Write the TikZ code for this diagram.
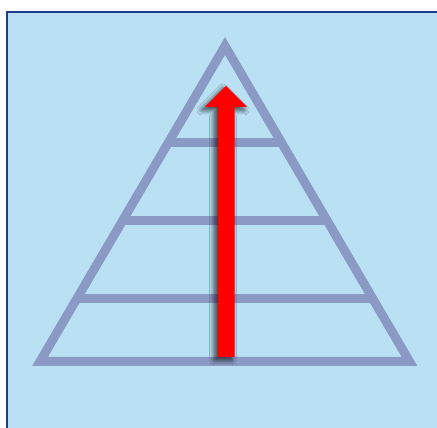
\documentclass[tikz,border=0pt]{standalone}
\usetikzlibrary{shadows.blur}
\definecolor{bgblue}{HTML}{BAE0F4}
\definecolor{frameblue}{HTML}{1F3A93}
\definecolor{pyr}{HTML}{8B9AC4}
\definecolor{arrred}{HTML}{FF0000}
\tikzset{
  pyrline/.style={draw=pyr, line width=9pt, line join=miter},
  uparrow/.style={fill=arrred, draw=none, blur shadow={shadow xshift=-3pt, shadow yshift=-3pt, shadow blur steps=16, shadow opacity=75, shadow blur radius=5pt}}
}
\begin{document}
\begin{tikzpicture}[x=1pt,y=1pt]
\useasboundingbox (0,0) rectangle (437,428);
\begin{scope}
\clip (0,0) rectangle (437,428);
\draw[fill=bgblue, draw=frameblue, line width=2.2pt] (7,416) rectangle (450,-20);
\end{scope}
\coordinate (apex) at (225,382);
\coordinate (bl) at (40,66.5);
\coordinate (br) at (409.5,66.5);
\draw[pyrline] (apex) -- (bl) -- (br) -- cycle;
\coordinate (l1) at (168.4,285.5); \coordinate (r1) at (281.4,285.5);
\coordinate (l2) at (122.7,207.5); \coordinate (r2) at (327.0,207.5);
\coordinate (l3) at (76.9,129.5);  \coordinate (r3) at (372.7,129.5);
\draw[pyrline] (l1) -- (r1);
\draw[pyrline] (l2) -- (r2);
\draw[pyrline] (l3) -- (r3);
\path[uparrow] (217.5,71) -- (234.5,71) -- (234.5,321) -- (247,321) -- (226,342) -- (205,321) -- (217.5,321) -- cycle;
\end{tikzpicture}
\end{document}
